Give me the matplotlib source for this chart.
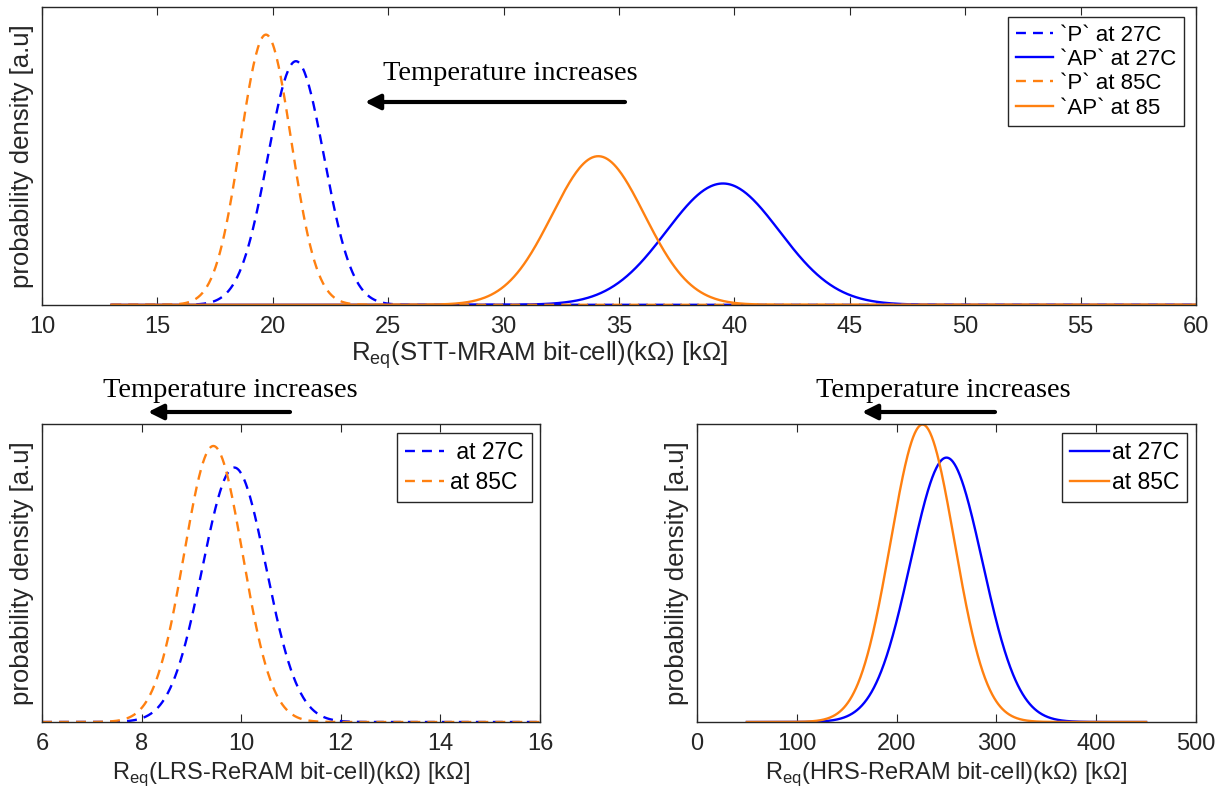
import numpy as np
import matplotlib.pyplot as plt
from matplotlib.patches import FancyArrowPatch

plt.rcParams['font.family'] = ['Liberation Sans', 'DejaVu Sans']
plt.rcParams['mathtext.fontset'] = 'custom'
plt.rcParams['mathtext.rm'] = 'Liberation Sans'

BLUE = '#0000ff'
ORANGE = '#ff8010'

# STT-MRAM resistance distributions (kOhm): mean / sigma
mram_labels = ['`P` at 27C', '`AP` at 27C', '`P` at 85C', '`AP` at 85']
mram_mean = [21.0, 39.5, 19.7, 34.1]
mram_sigma = [1.22, 2.45, 1.10, 2.00]
mram_range = (13, 60)

# LRS-ReRAM
lrs_labels = [' at 27C', 'at 85C']
lrs_mean = [9.86, 9.44]
lrs_sigma = [0.64, 0.59]
lrs_range = (6, 16)

# HRS-ReRAM
hrs_labels = ['at 27C', 'at 85C']
hrs_mean = [250.0, 226.0]
hrs_sigma = [36.0, 32.0]
hrs_range = (50, 450)

LW = 1.7
DASH = (4.2, 3.0)


def normpdf(x, mu, s):
    return np.exp(-0.5 * ((x - mu) / s) ** 2) / (s * np.sqrt(2 * np.pi))


def style_axes(ax, xlabel, xl_size=17):
    ax.set_yticks([])
    ax.tick_params(axis='x', direction='in', length=6, top=True,
                   labelsize=17, colors='#262626', pad=8)
    for sp in ax.spines.values():
        sp.set_color('#262626')
        sp.set_linewidth(1.0)
    ax.set_xlabel(xlabel, fontsize=xl_size, color='#262626', labelpad=4)
    ax.set_ylabel('probability density [a.u]', fontsize=18.5, color='#262626', labelpad=6)


def add_legend(ax, anchor, textpad=0.3, size=16.5, spacing=0.3):
    ax.legend(loc='upper right', fontsize=size, handlelength=1.7, handletextpad=textpad,
              borderpad=0.35, labelspacing=spacing, fancybox=False, edgecolor='#262626',
              framealpha=1, bbox_to_anchor=anchor, borderaxespad=0)


def arrow_label(fig, tx, ty, x0, x1, ya):
    fig.text(tx, ty, 'Temperature increases', family='Liberation Serif',
             fontsize=20.5, ha='center', va='center')
    fig.add_artist(FancyArrowPatch(
        (x0, ya), (x1, ya), transform=fig.transFigure,
        arrowstyle='-|>,head_length=6,head_width=3', lw=3, color='black',
        mutation_scale=1.5, shrinkA=0, shrinkB=0))


fig = plt.figure(figsize=(12.19, 8), dpi=100)
W, H = 1219, 800
ax_top = fig.add_axes([0.0345, 0.619, 0.9467, 0.3725])
ax_lrs = fig.add_axes([0.0345, 0.0975, 0.4085, 0.3725])
ax_hrs = fig.add_axes([0.5718, 0.0975, 0.4093, 0.3725])

# top: STT-MRAM
x = np.linspace(*mram_range, 1000)
colors = [BLUE, BLUE, ORANGE, ORANGE]
styles = ['--', '-', '--', '-']
for lab, mu, s, c, ls in zip(mram_labels, mram_mean, mram_sigma, colors, styles):
    line, = ax_top.plot(x, normpdf(x, mu, s), color=c, lw=LW, ls=ls, label=lab)
    if ls == '--':
        line.set_dashes(DASH)
ax_top.set_xlim(10, 60)
ax_top.set_ylim(0, 0.40)
ax_top.set_xticks(np.arange(10, 61, 5))
style_axes(ax_top, r'R$_{\mathrm{eq}}$(STT-MRAM bit-cell)(k$\Omega$) [k$\Omega$]', 18.5)
ax_top.xaxis.set_label_coords((540 - 42) / 1154, -0.115)
add_legend(ax_top, ((1184 - 42) / 1154, (305 - 17) / 298), size=16, spacing=0.15)

# bottom left: LRS-ReRAM
x = np.linspace(*lrs_range, 1000)
for lab, mu, s, c in zip(lrs_labels, lrs_mean, lrs_sigma, [BLUE, ORANGE]):
    line, = ax_lrs.plot(x, normpdf(x, mu, s), color=c, lw=LW, ls='--', label=lab)
    line.set_dashes(DASH)
ax_lrs.set_xlim(6, 16)
ax_lrs.set_ylim(0, 0.73)
ax_lrs.set_xticks(np.arange(6, 17, 2))
style_axes(ax_lrs, r'R$_{\mathrm{eq}}$(LRS-ReRAM bit-cell)(k$\Omega$) [k$\Omega$]')
add_legend(ax_lrs, ((532 - 42) / 498, (722 - 433) / 298))

# bottom right: HRS-ReRAM
x = np.linspace(*hrs_range, 1000)
for lab, mu, s, c in zip(hrs_labels, hrs_mean, hrs_sigma, [BLUE, ORANGE]):
    ax_hrs.plot(x, normpdf(x, mu, s), color=c, lw=LW, label=lab)
ax_hrs.set_xlim(0, 500)
ax_hrs.set_ylim(0, 0.01249)
ax_hrs.set_xticks(np.arange(0, 501, 100))
style_axes(ax_hrs, r'R$_{\mathrm{eq}}$(HRS-ReRAM bit-cell)(k$\Omega$) [k$\Omega$]')
add_legend(ax_hrs, ((1187 - 697) / 499, (722 - 433) / 298), textpad=0.1)

# annotations
arrow_label(fig, 510 / W, 1 - 74 / H, 625 / W, 365 / W, 1 - 102 / H)
arrow_label(fig, 230 / W, 1 - 390 / H, 290 / W, 148 / W, 1 - 412 / H)
arrow_label(fig, 943 / W, 1 - 390 / H, 995 / W, 862 / W, 1 - 412 / H)

fig.savefig('out.png', dpi=100)
